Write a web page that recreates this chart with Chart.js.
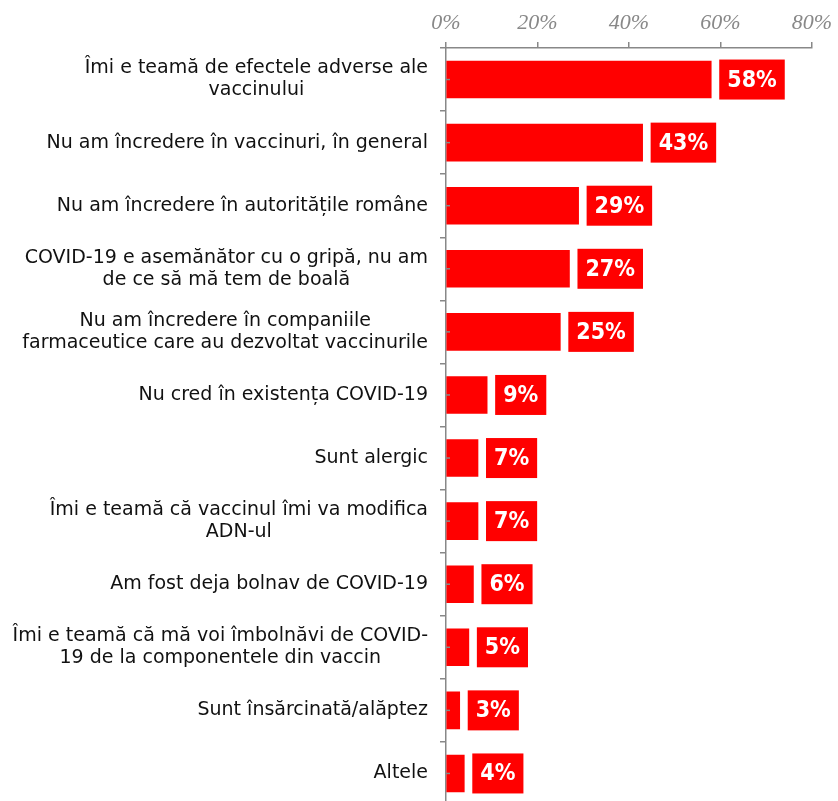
<!DOCTYPE html>
<html>
<head>
<meta charset="utf-8">
<script src="https://cdn.jsdelivr.net/npm/chart.js@4"></script>
<style>
  html, body { margin: 0; padding: 0; background: #fff; overflow: hidden; }
  canvas { display: block; }
</style>
</head>
<body>
<canvas id="chart" width="838" height="806"></canvas>
<script>
// date din grafic
const categories = [
  ['Îmi e teamă de efectele adverse ale', 'vaccinului'],
  ['Nu am încredere în vaccinuri, în general'],
  ['Nu am încredere în autoritățile române'],
  ['COVID-19 e asemănător cu o gripă, nu am', 'de ce să mă tem de boală'],
  ['Nu am încredere în companiile', 'farmaceutice care au dezvoltat vaccinurile'],
  ['Nu cred în existența COVID-19'],
  ['Sunt alergic'],
  ['Îmi e teamă că vaccinul îmi va modifica', 'ADN-ul'],
  ['Am fost deja bolnav de COVID-19'],
  ['Îmi e teamă că mă voi îmbolnăvi de COVID-', '19 de la componentele din vaccin'],
  ['Sunt însărcinată/alăptez'],
  ['Altele']
];
const values = [58, 43, 29, 27, 25, 9, 7, 7, 6, 5, 3, 4];
const xTicks = [0, 20, 40, 60, 80];

const RED = '#ff0000';
const GRAY = '#888888';
const labelFont = '19px "DejaVu Sans", sans-serif';
const valueFont = 'bold 23px "DejaVu Sans", sans-serif';

// etichete pe axa Y: aliniate la dreapta, randurile centrate intre ele
const yLabelsPlugin = {
  id: 'yLabels',
  afterDraw(chart) {
    const ctx = chart.ctx;
    const y = chart.scales.y;
    const right = 428;
    const lh = 22;
    ctx.save();
    ctx.font = labelFont;
    ctx.fillStyle = '#111';
    ctx.textAlign = 'center';
    ctx.textBaseline = 'middle';
    categories.forEach((lines, i) => {
      const cy = y.getPixelForValue(i);
      const w = Math.max(...lines.map(l => ctx.measureText(l).width));
      const cx = right - w / 2;
      lines.forEach((l, j) => {
        ctx.fillText(l, cx, cy + (j - (lines.length - 1) / 2) * lh);
      });
    });
    ctx.restore();
  }
};

// casute rosii cu valoarea + liniute mici pe axa
const valueBoxPlugin = {
  id: 'valueBoxes',
  afterDatasetsDraw(chart) {
    const ctx = chart.ctx;
    const meta = chart.getDatasetMeta(0);
    const left = chart.chartArea.left;
    ctx.save();
    ctx.font = valueFont;
    ctx.fontStretch = 'condensed';
    ctx.textAlign = 'center';
    ctx.textBaseline = 'middle';
    meta.data.forEach((bar, i) => {
      const txt = values[i] + '%';
      const tw = ctx.measureText(txt).width;
      const bw = tw + 16, bh = 40;
      const bx = bar.x + 8;
      ctx.fillStyle = RED;
      ctx.fillRect(bx, bar.y - bh / 2, bw, bh);
      ctx.fillStyle = '#fff';
      ctx.fillText(txt, bx + bw / 2, bar.y + 1);
      // liniuta de la centru
      ctx.strokeStyle = GRAY;
      ctx.lineWidth = 1.5;
      ctx.beginPath();
      ctx.moveTo(left, bar.y);
      ctx.lineTo(left + 4, bar.y);
      ctx.stroke();
    });
    ctx.restore();
  }
};

new Chart(document.getElementById('chart'), {
  type: 'bar',
  data: {
    labels: categories,
    datasets: [{
      data: values,
      backgroundColor: RED,
      borderWidth: 0,
      barThickness: 37
    }]
  },
  options: {
    indexAxis: 'y',
    responsive: false,
    animation: false,
    devicePixelRatio: 1,
    layout: { padding: { left: 0, right: 24, top: 0, bottom: 1 } },
    plugins: {
      legend: { display: false },
      tooltip: { enabled: false }
    },
    scales: {
      x: {
        position: 'top',
        min: 0,
        max: 80,
        afterBuildTicks(s) { s.ticks = xTicks.map(v => ({ value: v })); },
        afterFit(s) { s.height = 48; },
        ticks: {
          padding: 6,
          color: GRAY,
          font: { family: '"Liberation Serif", serif', style: 'italic', size: 22 },
          callback: v => v + '%'
        },
        grid: { drawOnChartArea: false, tickLength: 6, color: GRAY, lineWidth: 1.5 },
        border: { color: GRAY, width: 1.5 }
      },
      y: {
        afterFit(s) { s.width = 446; },
        ticks: { display: false },
        grid: { offset: true, drawOnChartArea: false, tickLength: 6, color: GRAY, lineWidth: 1.5 },
        border: { color: GRAY, width: 1.5 }
      }
    }
  },
  plugins: [yLabelsPlugin, valueBoxPlugin]
});
</script>
</body>
</html>
